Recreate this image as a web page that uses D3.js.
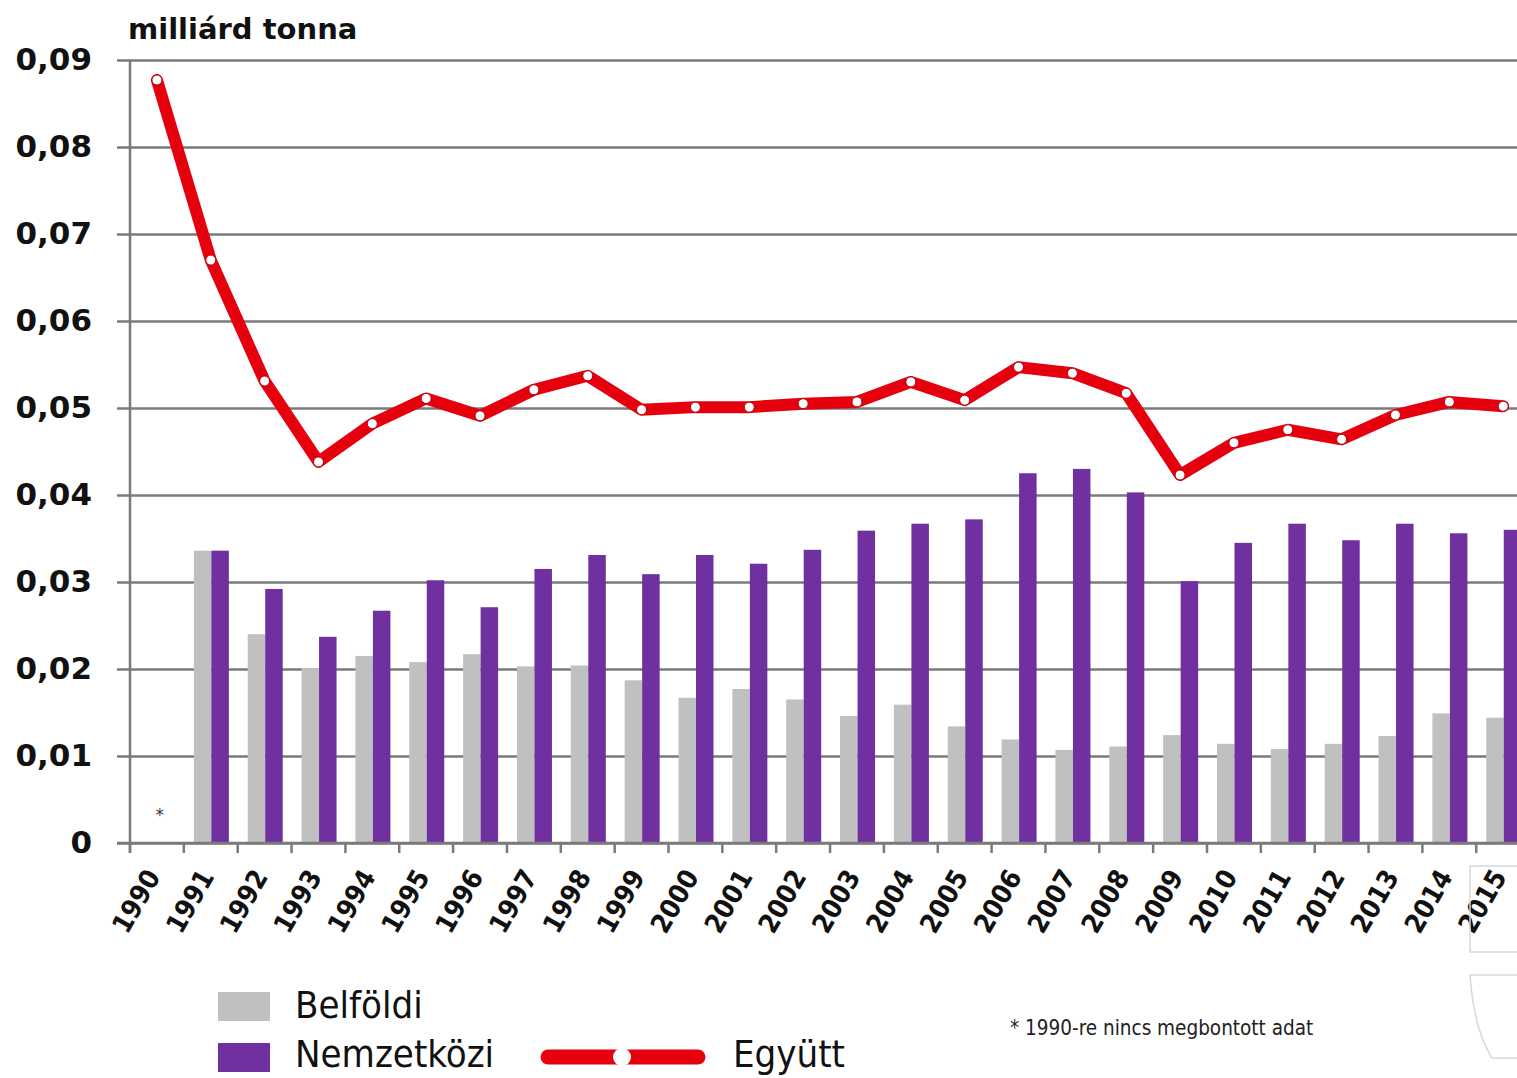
<!DOCTYPE html>
<html>
<head>
<meta charset="utf-8">
<script src="https://cdn.jsdelivr.net/npm/d3@7"></script>
<style>
  body { margin: 0; background: #fff; }
  svg { display: block; }
</style>
</head>
<body>
<div id="my_dataviz"></div>
<script>

let years = ["1990", "1991", "1992", "1993", "1994", "1995", "1996", "1997", "1998", "1999",
  "2000", "2001", "2002", "2003", "2004", "2005", "2006", "2007", "2008", "2009",
  "2010", "2011", "2012", "2013", "2014", "2015"]

// 1990: nincs megbontott adat
let belfoldi = [null, 0.0336, 0.0240, 0.0201, 0.0215, 0.0208, 0.0217, 0.0203, 0.0204, 0.0187,
  0.0167, 0.0177, 0.0165, 0.0146, 0.0159, 0.0134, 0.0119, 0.0107, 0.0111, 0.0124,
  0.0114, 0.0108, 0.0114, 0.0123, 0.0149, 0.0144]

let nemzetkozi = [null, 0.0336, 0.0292, 0.0237, 0.0267, 0.0302, 0.0271, 0.0315, 0.0331, 0.0309,
  0.0331, 0.0321, 0.0337, 0.0359, 0.0367, 0.0372, 0.0425, 0.0430, 0.0403, 0.0301,
  0.0345, 0.0367, 0.0348, 0.0367, 0.0356, 0.0360]

let egyutt = [0.0877, 0.0670, 0.0531, 0.0438, 0.0482, 0.0511, 0.0491, 0.0521, 0.0537, 0.0498,
  0.0501, 0.0501, 0.0505, 0.0507, 0.0530, 0.0509, 0.0547, 0.0540, 0.0517, 0.0423,
  0.0460, 0.0475, 0.0464, 0.0492, 0.0507, 0.0502]

let yTicks = [0, 0.01, 0.02, 0.03, 0.04, 0.05, 0.06, 0.07, 0.08, 0.09]

let width = 1517,
  height = 1078

let svg = d3.select("#my_dataviz")
  .append("svg")
  .attr("width", width)
  .attr("height", height)
  .style("font-family", "'DejaVu Sans Condensed', 'DejaVu Sans', sans-serif")

let x = d3.scaleBand()
  .domain(years)
  .range([130, 130 + 26 * 53.85])

let xSub = d3.scaleBand()
  .domain(["belfoldi", "nemzetkozi"])
  .range([10, 45])

let y = d3.scaleLinear()
  .domain([0, 0.09])
  .range([843, 60])

let fmt = d => d === 0 ? "0" : d3.format(".2f")(d).replace(".", ",")

// gridlines + y labels
let yAxisCall = d3.axisLeft(y)
  .tickValues(yTicks)
  .tickSize(-(width - 117))
  .tickFormat(fmt)

svg.append("g")
  .attr("class", "y-axis")
  .attr("transform", "translate(117,0)")
  .call(yAxisCall)
  .call(g => g.select(".domain").remove())
  .call(g => g.selectAll(".tick line")
    .attr("stroke", "#7a7a7a")
    .attr("stroke-width", 2.5))
  .call(g => g.selectAll(".tick text")
    .attr("x", -25)
    .attr("fill", "#111")
    .style("font-family", "'DejaVu Sans', sans-serif")
    .style("font-weight", "bold")
    .style("font-size", "31px"))

// vertical axis line
svg.append("line")
  .attr("x1", 130).attr("x2", 130)
  .attr("y1", y(0.09)).attr("y2", y(0) + 10)
  .attr("stroke", "#7a7a7a")
  .attr("stroke-width", 2.5)

// bottom axis ticks at band edges
let xAxisCall = d3.axisBottom(x)
  .tickSize(10)
  .tickFormat("")

svg.append("g")
  .attr("class", "x-axis")
  .attr("transform", "translate(0," + y(0) + ")")
  .call(xAxisCall)
  .call(g => g.select(".domain").remove())
  .call(g => g.selectAll(".tick")
    .attr("transform", d => "translate(" + x(d) + ",0)"))
  .call(g => g.selectAll(".tick line")
    .attr("stroke", "#7a7a7a")
    .attr("stroke-width", 2.5))

// year labels
svg.append("g")
  .selectAll("text")
  .data(years)
  .join("text")
  .attr("transform", d => "translate(" + (x(d) + x.bandwidth() / 2 - 4) + ",872) rotate(-60)")
  .attr("text-anchor", "end")
  .attr("dy", "0.35em")
  .attr("fill", "#111")
  .style("font-weight", "bold")
  .style("font-size", "27px")
  .text(d => d)

// bars
let barData = years.map((yr, i) => ({ year: yr, belfoldi: belfoldi[i], nemzetkozi: nemzetkozi[i] }))
let barColors = { belfoldi: "#c0c0c0", nemzetkozi: "#7030a0" }

svg.append("g")
  .selectAll("g")
  .data(barData)
  .join("g")
  .attr("transform", d => "translate(" + x(d.year) + ",0)")
  .selectAll("rect")
  .data(d => ["belfoldi", "nemzetkozi"].filter(k => d[k] !== null).map(k => ({ key: k, value: d[k] })))
  .join("rect")
  .attr("x", d => xSub(d.key))
  .attr("width", xSub.bandwidth())
  .attr("y", d => y(d.value))
  .attr("height", d => y(0) - y(d.value))
  .attr("fill", d => barColors[d.key])

// bottom axis line on top of bars
svg.append("line")
  .attr("x1", 117).attr("x2", width)
  .attr("y1", y(0)).attr("y2", y(0))
  .attr("stroke", "#7a7a7a")
  .attr("stroke-width", 2.5)

// asterisk for 1990
svg.append("text")
  .attr("x", x("1990") + x.bandwidth() / 2 + 3)
  .attr("y", y(0) - 22)
  .attr("text-anchor", "middle")
  .attr("fill", "#333")
  .style("font-size", "18px")
  .text("*")

// total line
let lineData = years.map((yr, i) => ({ year: yr, value: egyutt[i] }))

svg.append("path")
  .datum(lineData)
  .attr("d", d3.line()
    .x(d => x(d.year) + x.bandwidth() / 2)
    .y(d => y(d.value)))
  .attr("stroke", "#e6000e")
  .attr("stroke-width", 12)
  .attr("stroke-linejoin", "round")
  .attr("stroke-linecap", "round")
  .style("fill", "none")

svg.append("g")
  .selectAll("circle")
  .data(lineData)
  .join("circle")
  .attr("cx", d => x(d.year) + x.bandwidth() / 2)
  .attr("cy", d => y(d.value))
  .attr("r", 5)
  .attr("fill", "#fff")
  .attr("stroke", "#b0000a")
  .attr("stroke-width", 1)

// unit title
svg.append("text")
  .attr("x", 128)
  .attr("y", 39)
  .attr("fill", "#111")
  .style("font-family", "'DejaVu Sans', sans-serif")
  .style("font-weight", "bold")
  .style("font-size", "29px")
  .text("milliárd tonna")

// legend
let legend = svg.append("g")

legend.append("rect")
  .attr("x", 218).attr("y", 992)
  .attr("width", 52).attr("height", 29)
  .attr("fill", barColors.belfoldi)

legend.append("text")
  .attr("x", 295).attr("y", 1018)
  .attr("fill", "#111")
  .style("font-size", "38px")
  .text("Belföldi")

legend.append("rect")
  .attr("x", 218).attr("y", 1043)
  .attr("width", 52).attr("height", 29)
  .attr("fill", barColors.nemzetkozi)

legend.append("text")
  .attr("x", 295).attr("y", 1067)
  .attr("fill", "#111")
  .style("font-size", "38px")
  .text("Nemzetközi")

legend.append("line")
  .attr("x1", 548).attr("x2", 698)
  .attr("y1", 1057).attr("y2", 1057)
  .attr("stroke", "#e6000e")
  .attr("stroke-width", 15)
  .attr("stroke-linecap", "round")

legend.append("circle")
  .attr("cx", 622).attr("cy", 1057)
  .attr("r", 9)
  .attr("fill", "#fff")

legend.append("text")
  .attr("x", 733).attr("y", 1067)
  .attr("fill", "#111")
  .style("font-size", "38px")
  .text("Együtt")

// footnote
svg.append("text")
  .attr("x", 1010).attr("y", 1035)
  .attr("fill", "#222")
  .style("font-size", "20.5px")
  .text("* 1990-re nincs megbontott adat")

// faint frame remnants at the bottom right edge
svg.append("path")
  .attr("d", "M1517,866 L1470,866 L1470,952 L1517,952")
  .attr("fill", "none")
  .attr("stroke", "#d8d8d8")
  .attr("stroke-width", 1.5)

svg.append("path")
  .attr("d", "M1517,975 L1470,975 Q1474,1030 1492,1058 L1517,1058")
  .attr("fill", "none")
  .attr("stroke", "#d8d8d8")
  .attr("stroke-width", 1.5)

</script>
</body>
</html>
